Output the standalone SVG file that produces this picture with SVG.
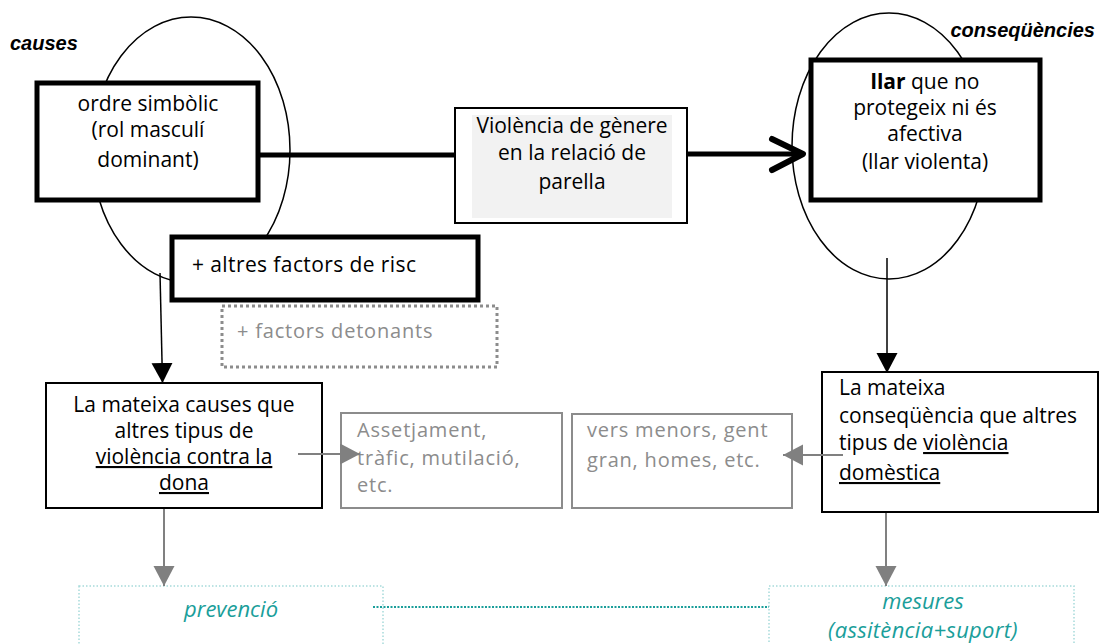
<svg xmlns="http://www.w3.org/2000/svg" width="1100" height="644" viewBox="0 0 1100 644">
<defs>
<style>
.t{font-family:"Open Sans","DejaVu Sans",sans-serif;font-size:21px;fill:#000}
.g{font-family:"Open Sans","DejaVu Sans",sans-serif;font-size:20px;fill:#8c8c8c;letter-spacing:0.8px}
.lbl{font-family:"Liberation Sans",Arial,sans-serif;font-size:20px;font-weight:bold;font-style:italic;fill:#000}
.teal{font-family:"Open Sans","DejaVu Sans",sans-serif;font-size:22px;font-style:italic;fill:#1a9e9a}
.thick{fill:#fff;stroke:#000;stroke-width:5}
.thin{fill:#fff;stroke:#000;stroke-width:2}
.gbox{fill:#fff;stroke:#8c8c8c;stroke-width:2}
.dbox{fill:none;stroke:#a6dada;stroke-width:1.5;stroke-dasharray:1.5 2}
.ell{fill:none;stroke:#000;stroke-width:1.5}
</style>
<marker id="ab" markerWidth="22" markerHeight="22" refX="20" refY="10.5" orient="auto" markerUnits="userSpaceOnUse"><path d="M0,0 L20,10.5 L0,21 Z" fill="#000"/></marker>
<marker id="ag" markerWidth="22" markerHeight="22" refX="20" refY="10.5" orient="auto" markerUnits="userSpaceOnUse"><path d="M0,0 L20,10.5 L0,21 Z" fill="#808080"/></marker>
</defs>
<rect width="1100" height="644" fill="#fff"/>

<g id="ellipses">
<ellipse class="ell" cx="191" cy="150" rx="99" ry="133"/>
<ellipse class="ell" cx="889" cy="146" rx="97" ry="133"/>
</g>

<g id="causes-label"><text class="lbl" x="10" y="50">causes</text></g>
<g id="consequencies-label"><text class="lbl" x="1095" y="37" text-anchor="end">conseqüències</text></g>

<g id="ordre">
<rect class="thick" x="37" y="83" width="221" height="117"/>
<text class="t" text-anchor="middle"><tspan x="148" y="111">ordre simbòlic</tspan><tspan x="148" y="137">(rol masculí</tspan><tspan x="148" y="167">dominant)</tspan></text>
</g>

<g id="violencia">
<rect x="455" y="108" width="232" height="115" fill="#fff" stroke="#000" stroke-width="2"/>
<rect x="472" y="115" width="200" height="103" fill="#f2f2f2"/>
<text class="t" text-anchor="middle"><tspan x="572" y="133">Violència de gènere</tspan><tspan x="572" y="160">en la relació de</tspan><tspan x="572" y="189">parella</tspan></text>
</g>

<g id="llar">
<rect class="thick" x="811" y="60" width="229" height="140"/>
<text class="t" text-anchor="middle"><tspan x="925" y="89"><tspan font-weight="bold">llar</tspan> que no</tspan><tspan x="925" y="115">protegeix ni és</tspan><tspan x="925" y="141">afectiva</tspan><tspan x="925" y="169">(llar violenta)</tspan></text>
</g>

<g id="factors-risc">
<rect class="thick" x="172" y="237" width="306" height="63"/>
<text class="t" x="192" y="272" letter-spacing="0.4">+ altres factors de risc</text>
</g>

<g id="factors-detonants">
<rect x="222" y="306" width="275" height="61" fill="#fff" stroke="#8c8c8c" stroke-width="3" stroke-dasharray="3 3"/>
<text class="g" x="237" y="338" letter-spacing="0.5">+ factors detonants</text>
</g>

<g id="causes-box">
<rect class="thin" x="46" y="383" width="276" height="125"/>
<text class="t" text-anchor="middle"><tspan x="184" y="412">La mateixa causes que</tspan><tspan x="184" y="438">altres tipus de</tspan><tspan x="184" y="464" text-decoration="underline">violència contra la</tspan><tspan x="184" y="490" text-decoration="underline">dona</tspan></text>
</g>

<g id="assetjament">
<rect class="gbox" x="341" y="413" width="221" height="95"/>
<text class="g"><tspan x="357" y="437">Assetjament,</tspan><tspan x="357" y="465">tràfic, mutilació,</tspan><tspan x="357" y="492">etc.</tspan></text>
</g>

<g id="vers-menors">
<rect class="gbox" x="572" y="414" width="220" height="94"/>
<text class="g" letter-spacing="0.6"><tspan x="587" y="437">vers menors, gent</tspan><tspan x="587" y="467">gran, homes, etc.</tspan></text>
</g>

<g id="consequencia-box">
<rect class="thin" x="822" y="372" width="276" height="140"/>
<text class="t"><tspan x="839" y="395">La mateixa</tspan><tspan x="839" y="423">conseqüència que altres</tspan><tspan x="839" y="450">tipus de <tspan text-decoration="underline">violència</tspan></tspan><tspan x="839" y="480" text-decoration="underline">domèstica</tspan></text>
</g>

<g id="prevencio">
<rect class="dbox" x="79" y="586" width="304" height="80"/>
<text class="teal" x="231" y="617" text-anchor="middle">prevenció</text>
</g>

<g id="mesures">
<rect class="dbox" x="769" y="586" width="305" height="80"/>
<text class="teal" text-anchor="middle"><tspan x="923" y="609">mesures</tspan><tspan x="923" y="638" letter-spacing="0.3">(assitència+suport)</tspan></text>
</g>

<g id="connectors">
<line x1="258" y1="155" x2="455" y2="155" stroke="#000" stroke-width="5"/>
<line x1="687" y1="154" x2="800" y2="154" stroke="#000" stroke-width="5"/>
<polyline points="772,139 803,154 772,170" fill="none" stroke="#000" stroke-width="6" stroke-linecap="round" stroke-linejoin="round"/>
<line x1="160" y1="273" x2="162.5" y2="383" stroke="#000" stroke-width="1.5" marker-end="url(#ab)"/>
<line x1="887" y1="258" x2="887" y2="373" stroke="#000" stroke-width="1.5" marker-end="url(#ab)"/>
<line x1="298" y1="454" x2="360" y2="454" stroke="#808080" stroke-width="2" marker-end="url(#ag)"/>
<line x1="843" y1="455" x2="783" y2="455" stroke="#808080" stroke-width="2" marker-end="url(#ag)"/>
<line x1="164" y1="509" x2="164" y2="586" stroke="#808080" stroke-width="2" marker-end="url(#ag)"/>
<line x1="886" y1="513" x2="886" y2="586" stroke="#808080" stroke-width="2" marker-end="url(#ag)"/>
<line x1="373" y1="607" x2="769" y2="607" stroke="#1a9e9a" stroke-width="2" stroke-dasharray="2 1.5"/>
</g>
</svg>
